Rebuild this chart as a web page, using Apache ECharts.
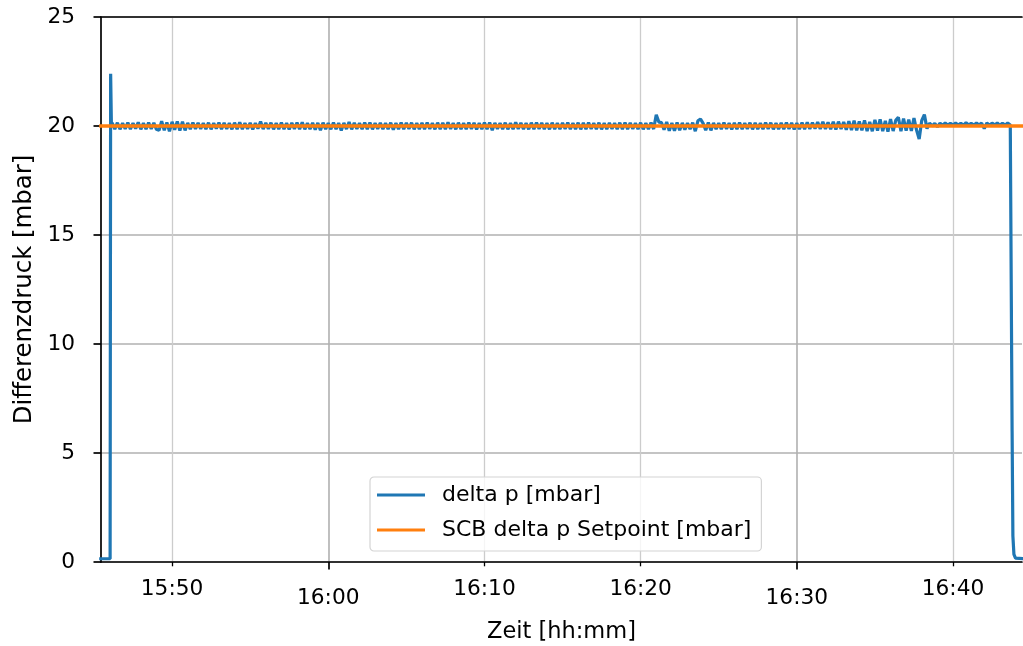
<!DOCTYPE html>
<html>
<head>
<meta charset="utf-8">
<script src="https://cdn.jsdelivr.net/npm/echarts@6/dist/echarts.min.js"></script>
<style>
  html, body { margin: 0; padding: 0; background: #ffffff; }
  #chart { width: 1023px; height: 646px; }
</style>
</head>
<body>
<div id="chart"></div>
<script>
// ---------- data ----------
const xRange = ["15:45:27", "16:44:25"];
const majorTickLabels = ["16:00", "16:30"];
const minorTickLabels = ["15:50", "16:10", "16:20", "16:40"];
const yTicks = [0, 5, 10, 15, 20, 25];

const seriesNames = ["delta p [mbar]", "SCB delta p Setpoint [mbar]"];

// delta p: start edge (before regulation)
const deltaStartTimes = ["15:45:20", "15:46:02", "15:46:04", "15:46:07"];
const deltaStartValues = [0.15, 0.15, 22.4, 20.0];

// delta p: regular samples every 10 s from 15:46:10 to 16:43:40 (one row per minute)
const deltaSampleStart = "15:46:10";
const deltaSampleStepSec = 10;
const deltaSamples = [
  20.14, 19.86, 20.15, 19.85, 20.13, 19.87,
  20.15, 19.86, 20.13, 19.88, 20.17, 19.85,
  20.13, 19.86, 20.15, 19.87, 20.14, 19.85,
  19.80, 20.22, 19.80, 20.16, 19.76, 20.19,
  19.83, 20.21, 19.79, 20.20, 19.80, 20.14,
  19.86, 20.16, 19.87, 20.14, 19.87, 20.13,
  19.86, 20.15, 19.85, 20.13, 19.88, 20.16,
  19.86, 20.14, 19.87, 20.13, 19.85, 20.15,
  19.86, 20.17, 19.86, 20.13, 19.87, 20.14,
  19.85, 20.13, 19.88, 20.20, 19.86, 20.14,
  19.87, 20.15, 19.85, 20.13, 19.86, 20.16,
  19.86, 20.13, 19.84, 20.14, 19.87, 20.15,
  19.86, 20.17, 19.85, 20.13, 19.86, 20.14,
  19.83, 20.14, 19.81, 20.15, 19.86, 20.13,
  19.85, 20.16, 19.86, 20.13, 19.80, 20.14,
  19.86, 20.18, 19.85, 20.14, 19.87, 20.13,
  19.86, 20.15, 19.86, 20.16, 19.85, 20.13,
  19.87, 20.14, 19.86, 20.13, 19.86, 20.15,
  19.83, 20.13, 19.86, 20.16, 19.86, 20.14,
  19.87, 20.15, 19.85, 20.13, 19.86, 20.14,
  19.86, 20.16, 19.87, 20.13, 19.85, 20.15,
  19.86, 20.14, 19.86, 20.17, 19.87, 20.13,
  19.85, 20.15, 19.86, 20.13, 19.86, 20.16,
  19.87, 20.14, 19.85, 20.13, 19.86, 20.15,
  19.86, 20.16, 19.81, 20.14, 19.87, 20.13,
  19.86, 20.15, 19.85, 20.13, 19.86, 20.17,
  19.87, 20.14, 19.86, 20.13, 19.85, 20.15,
  19.86, 20.16, 19.87, 20.14, 19.86, 20.13,
  19.85, 20.15, 19.86, 20.13, 19.86, 20.14,
  19.87, 20.16, 19.86, 20.13, 19.86, 20.15,
  19.85, 20.14, 19.86, 20.16, 19.87, 20.13,
  19.86, 20.15, 19.85, 20.13, 19.86, 20.14,
  19.87, 20.13, 19.86, 20.15, 19.85, 20.16,
  19.86, 20.14, 19.87, 20.13, 19.86, 20.15,
  19.85, 20.13, 19.86, 20.15, 19.86, 20.52,
  20.18, 20.16, 19.83, 20.18, 19.78, 20.14,
  19.78, 20.16, 19.81, 20.14, 19.83, 20.13,
  19.86, 20.15, 19.76, 20.24, 20.32, 20.12,
  19.81, 20.16, 19.80, 20.14, 19.86, 20.13,
  19.86, 20.15, 19.87, 20.13, 19.85, 20.14,
  19.86, 20.16, 19.86, 20.13, 19.87, 20.15,
  19.85, 20.14, 19.86, 20.13, 19.86, 20.16,
  19.87, 20.15, 19.85, 20.13, 19.86, 20.14,
  19.86, 20.16, 19.87, 20.14, 19.85, 20.13,
  19.86, 20.15, 19.86, 20.17, 19.87, 20.16,
  19.88, 20.18, 19.86, 20.19, 19.87, 20.17,
  19.85, 20.19, 19.84, 20.20, 19.86, 20.18,
  19.83, 20.22, 19.81, 20.24, 19.80, 20.21,
  19.80, 20.26, 19.77, 20.19, 19.76, 20.28,
  19.79, 20.30, 19.76, 20.24, 19.74, 20.32,
  19.77, 20.26, 20.40, 19.76, 20.34, 19.79,
  20.29, 19.77, 20.36, 19.81, 19.40, 20.26,
  20.52, 19.88, 20.13, 20.00, 20.12, 19.96,
  20.13, 20.03, 20.14, 20.04, 20.12, 20.05,
  20.14, 20.04, 20.13, 20.03, 20.15, 20.05,
  20.12, 20.04, 20.14, 20.05, 20.13, 19.88,
  20.14, 20.04, 20.13, 20.05, 20.14, 20.03,
  20.13, 20.04, 20.14, 20.05
];

// delta p: end edge (shutdown)
const deltaEndTimes = ["16:43:44", "16:43:47", "16:43:50", "16:43:54", "16:44:00", "16:44:40"];
const deltaEndValues = [20.0, 6.0, 1.2, 0.35, 0.18, 0.15];

// setpoint
const setpointTimes = ["15:45:20", "16:44:40"];
const setpointValues = [20, 20];

// ---------- helpers ----------
function toSec(s) {
  const p = s.split(':').map(Number);
  return p[0] * 3600 + p[1] * 60 + (p[2] || 0);
}
function fmt(v) {
  const h = Math.floor(v / 3600);
  const m = Math.round((v - h * 3600) / 60);
  return h + ':' + String(m).padStart(2, '0');
}

const deltaData = [];
deltaStartTimes.forEach((t, i) => deltaData.push([toSec(t), deltaStartValues[i]]));
const s0 = toSec(deltaSampleStart);
deltaSamples.forEach((v, i) => deltaData.push([s0 + i * deltaSampleStepSec, v]));
deltaEndTimes.forEach((t, i) => deltaData.push([toSec(t), deltaEndValues[i]]));

const setpointData = setpointTimes.map((t, i) => [toSec(t), setpointValues[i]]);

const xMin = toSec(xRange[0]);
const xMax = toSec(xRange[1]);
const FONT = 'DejaVu Sans';
const TICK_FS = 21.7;

const chart = echarts.init(document.getElementById('chart'), null, { renderer: 'canvas' });
chart.setOption({
  animation: false,
  backgroundColor: '#ffffff',
  textStyle: { fontFamily: FONT },
  grid: { left: 101, right: 1, top: 17, bottom: 84, outerBoundsMode: 'none', containLabel: false },
  legend: {
    orient: 'vertical',
    left: 370,
    top: 477,
    icon: 'rect',
    itemWidth: 48,
    itemHeight: 3,
    itemGap: 13,
    padding: [7, 10, 10, 7],
    backgroundColor: 'rgba(255,255,255,0.8)',
    borderColor: '#d4d4d4',
    borderWidth: 1.2,
    borderRadius: 4,
    data: seriesNames,
    formatter: name => '{t|' + name + '}',
    textStyle: {
      fontFamily: FONT,
      fontSize: 22,
      rich: { t: { fontFamily: FONT, fontSize: 22, color: '#000', padding: [0, 0, 0, 12] } }
    }
  },
  xAxis: [
    {
      type: 'value', min: xMin, max: xMax, position: 'bottom',
      name: 'Zeit [hh:mm]', nameLocation: 'middle', nameGap: 59,
      nameTextStyle: { fontFamily: FONT, fontSize: 22.5, color: '#000' },
      axisLine: { show: true, onZero: false, lineStyle: { color: '#000', width: 1.7 } },
      axisTick: { show: true, customValues: majorTickLabels.map(toSec), length: 7.5, lineStyle: { color: '#000', width: 1.7 } },
      axisLabel: { customValues: majorTickLabels.map(toSec), formatter: fmt, fontFamily: FONT, fontSize: TICK_FS, color: '#000', margin: 24, lineHeight: 24 },
      splitLine: { show: true, lineStyle: { color: '#b0b0b0', width: 1.6 } }
    },
    {
      type: 'value', min: xMin, max: xMax, position: 'bottom',
      axisLine: { show: false },
      axisTick: { show: true, customValues: minorTickLabels.map(toSec), length: 4.3, lineStyle: { color: '#000', width: 1.3 } },
      axisLabel: { customValues: minorTickLabels.map(toSec), formatter: fmt, fontFamily: FONT, fontSize: TICK_FS, color: '#000', margin: 15, lineHeight: 24 },
      splitLine: { show: true, lineStyle: { color: '#cccccc', width: 1.3 } }
    },
    {
      type: 'value', min: xMin, max: xMax, position: 'top',
      axisLine: { show: true, onZero: false, lineStyle: { color: '#000', width: 1.7 } },
      axisTick: { show: false }, axisLabel: { show: false }, splitLine: { show: false }
    }
  ],
  yAxis: {
    type: 'value', min: yTicks[0], max: yTicks[yTicks.length - 1], interval: yTicks[1] - yTicks[0],
    name: 'Differenzdruck [mbar]', nameLocation: 'middle', nameRotate: 90, nameGap: 62,
    nameTextStyle: { fontFamily: FONT, fontSize: 24.4, color: '#000' },
    axisLine: { show: true, lineStyle: { color: '#000', width: 1.7 } },
    axisTick: { show: true, length: 7.5, lineStyle: { color: '#000', width: 1.7 } },
    axisLabel: { fontFamily: FONT, fontSize: TICK_FS, color: '#000', margin: 26 },
    splitLine: { show: true, lineStyle: { color: '#b0b0b0', width: 1.5 } }
  },
  series: [
    {
      name: seriesNames[0], type: 'line', xAxisIndex: 0, data: deltaData,
      showSymbol: false, symbol: 'none', clip: true,
      lineStyle: { color: '#1f77b4', width: 3.2 }, itemStyle: { color: '#1f77b4' }
    },
    {
      name: seriesNames[1], type: 'line', xAxisIndex: 0, data: setpointData,
      showSymbol: false, symbol: 'none', clip: true,
      lineStyle: { color: '#ff7f0e', width: 3.5 }, itemStyle: { color: '#ff7f0e' }
    }
  ]
});
</script>
</body>
</html>
